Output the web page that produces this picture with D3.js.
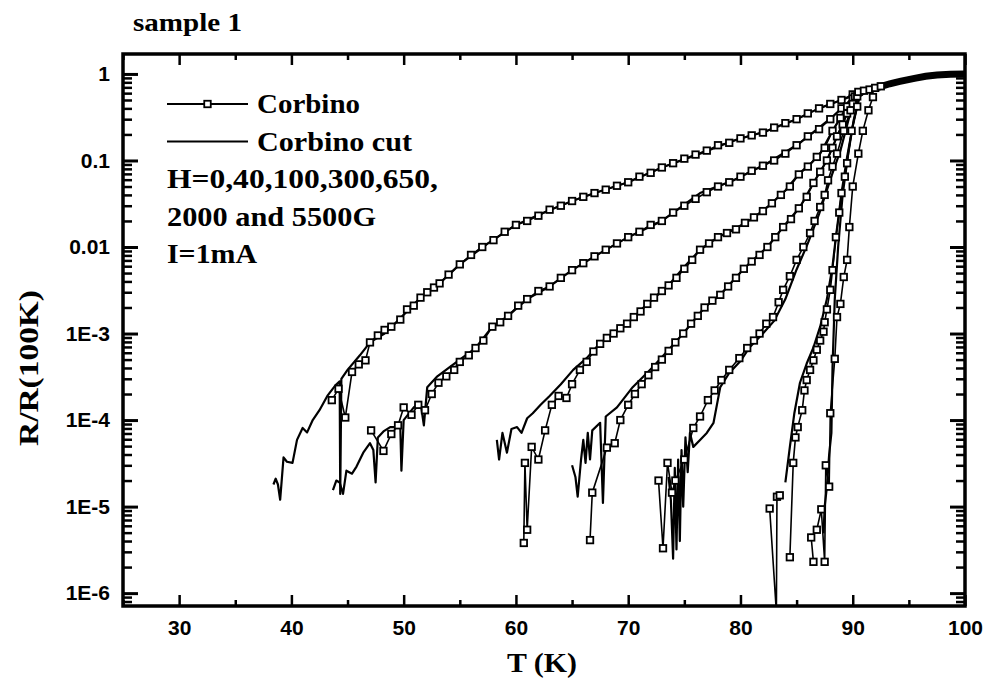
<!DOCTYPE html>
<html>
<head>
<meta charset="utf-8">
<script src="https://cdn.jsdelivr.net/npm/d3@7"></script>
<style>
body { margin: 0; background: #fff; }
.tick-label { font-family: "Liberation Sans", Arial, sans-serif; font-weight: bold; font-size: 21px; fill: #000; }
.title { font-family: "Liberation Serif", "Times New Roman", serif; font-weight: bold; fill: #000; }
</style>
</head>
<body>
<div id="chart"></div>
<script>
// DATA  (T in K, R/R(100K)); null = gap in the trace
const fieldsG = [0, 40, 100, 300, 650, 2000, 5500];

const cut0 = [[38.4,1.8e-5],[38.6,2.1e-5],[38.8,1.8e-5],[39.0,1.2e-5],[39.3,3.7e-5],[39.6,3.3e-5],[40.1,3.2e-5],[40.5,5.9e-5],[41.0,8.1e-5],[41.4,7.2e-5],[41.9,1.0e-4],[42.5,1.3e-4],[43.2,1.9e-4],[43.9,2.5e-4],[44.3,2.8e-4],[44.35,1.4e-5],[44.45,3.0e-4],[45.0,3.8e-4],[46.1,5.6e-4],[47.0,7.9e-4],[48.3,1.0e-3],[49.7,1.5e-3],[51.5,2.6e-3],[53.2,3.8e-3],[55,6.3e-3],[57.5,0.011],[60,0.018],[62.5,0.025],[65,0.034],[67.5,0.044],[70,0.056],[73,0.083],[76.4,0.12],[79.4,0.17],[82.4,0.22],[85,0.30],[87,0.40],[89,0.50],[90.6,0.60]];
const corbino0 = [[43.6,1.7e-4],[44.2,2.3e-4],[44.8,1.07e-4],[45.4,3.6e-4],[46.0,4.4e-4],[46.6,4.9e-4],[47.0,7.9e-4],[47.7,9.5e-4],[48.3,1.1e-3],[48.9,1.2e-3],[49.7,1.45e-3],[50.3,1.9e-3],[50.9,2.1e-3],[51.5,2.6e-3],[52.1,3.0e-3],[52.7,3.4e-3],[53.2,3.8e-3],[54,4.8e-3],[55,6.3e-3],[56,8.1e-3],[57,0.010],[58,0.012],[59,0.015],[60,0.018],[61,0.020],[62,0.023],[63,0.027],[64,0.030],[65,0.034],[66,0.038],[67,0.042],[68,0.046],[69,0.051],[70,0.056],[71,0.065],[72,0.072],[73,0.083],[74,0.093],[75,0.105],[76,0.117],[77,0.13],[78,0.15],[79,0.16],[80,0.18],[81,0.195],[82,0.21],[83,0.24],[84,0.27],[85,0.30],[86,0.35],[87,0.40],[88,0.45],[89,0.50],[90,0.58]];

const cut40 = [[43.7,1.55e-5],[44.0,2.0e-5],[44.3,1.9e-5],[44.6,1.4e-5],[44.9,2.6e-5],[45.4,2.4e-5],[45.8,2.9e-5],[46.4,4.2e-5],[47.0,5.4e-5],[47.3,4.5e-5],[47.5,1.9e-5],[47.7,6.3e-5],[48.2,7.4e-5],[48.8,8.3e-5],[49.7,8.3e-5],[49.8,2.6e-5],[50.0,1.0e-4],[50.9,1.4e-4],[51.5,1.6e-4],[51.8,8.7e-5],[52.1,2.4e-4],[53.0,3.2e-4],[54.1,4.1e-4],[55,5.0e-4],[56.4,6.8e-4],[57.9,1.2e-3],[59.3,1.6e-3],[61,2.5e-3],[63,3.5e-3],[65,5.4e-3],[67.5,8.5e-3],[70,0.013],[73,0.020],[76.4,0.042],[79.4,0.059],[82.4,0.093],[85.3,0.16],[88.2,0.32],[89.8,0.50]];
const corbino40 = [[47.1,7.6e-5],[48.2,4.4e-5],[48.9,6.9e-5],[49.5,8.7e-5],[50.0,1.4e-4],[50.7,1.15e-4],[51.3,1.5e-4],[51.9,1.3e-4],[52.5,2.0e-4],[53.1,2.7e-4],[53.8,3.2e-4],[54.5,3.8e-4],[55.0,4.7e-4],[55.8,5.6e-4],[56.4,6.8e-4],[57.1,8.3e-4],[57.9,1.2e-3],[58.6,1.35e-3],[59.3,1.6e-3],[60.2,2.1e-3],[61,2.5e-3],[62,3.1e-3],[63,3.5e-3],[64,4.4e-3],[65,5.4e-3],[66,6.5e-3],[67,7.8e-3],[68,9.3e-3],[69,0.011],[70,0.013],[71,0.015],[72,0.018],[73,0.020],[74,0.025],[75,0.030],[76,0.036],[77,0.043],[78,0.050],[79,0.056],[80,0.065],[81,0.076],[82,0.087],[83,0.10],[84,0.12],[85,0.15],[86,0.19],[87,0.23],[88,0.30],[89,0.40],[90,0.52]];

const cut100 = [[58.3,5.9e-5],[58.5,3.5e-5],[58.8,7.1e-5],[59.2,4.2e-5],[59.6,7.9e-5],[60.1,8.3e-5],[60.5,7.1e-5],[61.0,1.05e-4],[61.5,1.2e-4],[62.2,1.5e-4],[63.0,1.9e-4],[64.0,2.6e-4],[65.1,3.8e-4],[66.3,5.2e-4],[67.5,7.8e-4],[68.7,1.0e-3],[69.9,1.3e-3],[71.7,2.2e-3],[73.5,3.5e-3],[75.0,5.9e-3],[76.4,9.3e-3],[78,0.013],[79.4,0.016],[81,0.021],[82.4,0.029],[84,0.045],[85.3,0.072],[86.3,0.093],[87.1,0.12],[88.2,0.22],[89.5,0.42],[90.6,0.60]];
const corbino100 = [[60.7,3.8e-6],[60.8,3.2e-5],[61.0,5.4e-6],[61.4,4.9e-5],[62.0,3.5e-5],[62.6,7.6e-5],[63.2,1.5e-4],[63.8,1.9e-4],[64.5,1.8e-4],[65.0,2.6e-4],[65.7,3.8e-4],[66.3,4.7e-4],[66.9,6.2e-4],[67.5,7.6e-4],[68.1,8.9e-4],[68.7,1.0e-3],[69.3,1.15e-3],[69.9,1.3e-3],[70.5,1.55e-3],[71.1,1.8e-3],[71.7,2.2e-3],[72.3,2.6e-3],[73.0,3.1e-3],[73.6,3.6e-3],[74.3,4.4e-3],[75.0,5.6e-3],[75.7,7.1e-3],[76.4,9.3e-3],[77.2,0.011],[78.0,0.013],[78.8,0.0145],[79.6,0.016],[80.4,0.019],[81.2,0.022],[82.0,0.026],[82.8,0.032],[83.6,0.040],[84.4,0.050],[85.2,0.069],[86.0,0.085],[86.8,0.11],[87.5,0.14],[88.2,0.22],[88.9,0.31],[89.5,0.42],[90.2,0.55]];

const cut300 = [[65.0,3.0e-5],[65.3,2.2e-5],[65.5,1.3e-5],[65.8,3.5e-5],[66.0,5.9e-5],[66.2,3.2e-5],[66.4,7.1e-5],[66.6,3.5e-5],[66.8,7.6e-5],[67.5,9.3e-5],[67.75,1.1e-5],[68.0,1.1e-4],[69.0,1.4e-4],[70.4,2.4e-4],[72.2,4.1e-4],[73.5,6.3e-4],[74.9,1.0e-3],[76.8,2.0e-3],[78.2,2.8e-3],[79.4,4.2e-3],[80.8,6.5e-3],[82.4,0.010],[83.8,0.017],[85.3,0.029],[86.5,0.055],[87.7,0.10],[88.6,0.19],[89.5,0.35],[90.6,0.60]];
const corbino300 = [[66.6,4.1e-6],[66.8,1.45e-5],[68.1,4.8e-5],[68.8,5.4e-5],[69.3,1.0e-4],[70.0,1.5e-4],[70.6,2.0e-4],[71.2,2.6e-4],[71.8,3.3e-4],[72.4,4.1e-4],[73.0,5.0e-4],[73.6,6.3e-4],[74.2,7.9e-4],[74.9,1.0e-3],[75.6,1.3e-3],[76.2,1.6e-3],[76.8,2.0e-3],[77.5,2.4e-3],[78.2,2.8e-3],[78.9,3.5e-3],[79.6,4.4e-3],[80.3,5.6e-3],[81.0,6.8e-3],[81.7,8.1e-3],[82.4,0.010],[83.1,0.013],[83.8,0.017],[84.5,0.021],[85.2,0.028],[85.9,0.038],[86.5,0.055],[87.1,0.074],[87.7,0.10],[88.2,0.14],[88.6,0.19],[89.1,0.26],[89.5,0.35],[90.0,0.45]];

const cut650 = [[73.6,2.2e-5],[73.8,1.2e-5],[74.0,2.5e-6],[74.15,2.8e-5],[74.3,3.2e-6],[74.45,3.5e-5],[74.6,4.0e-6],[74.75,4.5e-5],[74.9,1.0e-5],[75.1,6.3e-5],[75.3,2.5e-5],[75.5,7.1e-5],[75.8,4.9e-5],[76.4,5.9e-5],[77.0,7.1e-5],[77.6,9.3e-5],[78.2,2.4e-4],[79.0,3.5e-4],[80.0,4.8e-4],[80.8,6.9e-4],[82.0,1.0e-3],[83.0,1.4e-3],[84.0,2.5e-3],[85.0,5.5e-3],[86.0,0.011],[87.0,0.024],[88.0,0.060],[88.9,0.13],[89.8,0.36],[90.6,0.60]];
const corbino650 = [[72.7,2.0e-5],[73.1,3.3e-6],[73.5,3.2e-5],[73.9,1.45e-5],[74.2,2.0e-5],[75.0,3.5e-5],[75.8,8.1e-5],[76.4,1.1e-4],[77.1,1.7e-4],[77.7,2.2e-4],[78.3,2.9e-4],[79.0,3.8e-4],[79.9,5.2e-4],[80.6,6.8e-4],[81.2,8.3e-4],[81.7,1.0e-3],[82.3,1.3e-3],[82.9,1.55e-3],[83.4,2.3e-3],[83.8,3.2e-3],[84.4,4.6e-3],[85.0,7.1e-3],[85.6,0.010],[86.2,0.0145],[86.6,0.020],[87.1,0.029],[87.5,0.040],[87.8,0.059],[88.2,0.085],[88.6,0.12],[89.2,0.22],[89.8,0.38],[90.4,0.55]];

const cut2000 = [[84.0,1.9e-5],[84.4,4.9e-5],[84.8,1.2e-4],[85.3,2.7e-4],[85.9,4.5e-4],[86.5,6.9e-4],[87.1,1.2e-3],[87.7,2.5e-3],[88.2,6.0e-3],[88.5,0.013],[89.0,0.042],[89.5,0.11],[90.0,0.25],[90.6,0.55]];
const corbino2000 = [[82.6,9.5e-6],[83.2,6.0e-7],[83.25,1.3e-5],[83.5,1.35e-5],[83.9,null],[84.4,2.6e-6],[84.7,3.2e-5],[84.9,6.3e-5],[85.1,8.3e-5],[85.5,1.3e-4],[85.7,2.2e-4],[85.9,2.9e-4],[86.2,3.8e-4],[86.5,4.9e-4],[86.8,6.5e-4],[87.1,8.3e-4],[87.4,1.05e-3],[87.5,1.35e-3],[87.7,1.9e-3],[88.0,3.2e-3],[88.2,5.4e-3],[88.5,0.013],[88.8,0.025],[89.0,0.042],[89.3,0.065],[89.5,0.093],[89.9,0.22],[90.4,0.42]];

const cut5500 = [[87.4,4.9e-6],[87.5,1.0e-5],[87.7,1.7e-5],[87.9,4.0e-5],[88.1,7.1e-5],[88.2,4.1e-4],[88.4,2.5e-3],[88.7,0.010],[89.1,0.040],[89.6,0.12],[90.1,0.30],[90.6,0.55]];
const corbino5500 = [[86.3,4.4e-6],[86.5,2.3e-6],[86.6,null],[86.8,5.4e-6],[87.2,9.3e-6],[87.5,2.3e-6],[87.6,3.0e-5],[87.9,1.7e-5],[88.0,1.2e-4],[88.4,5.1e-4],[88.6,1.55e-3],[88.9,2.2e-3],[89.2,4.5e-3],[89.5,7.1e-3],[89.7,0.017],[90.0,0.050],[90.5,0.12],[90.9,0.22],[91.4,0.38],[91.8,0.54]];

// normal state part, shared by all traces above ~91 K
const normalState = [[91.5,0.66],[92.4,0.71],[93.3,0.77],[94.2,0.82],[95.5,0.89],[96.5,0.94],[97.5,0.97],[98.7,0.99],[100,1.0]];
const normalMarks = [[90.5,0.62],[91,0.64],[91.5,0.66],[92,0.69],[92.5,0.72]];

const cutSeries = [cut0, cut40, cut100, cut300, cut650, cut2000, cut5500];
const corbinoSeries = [corbino0, corbino40, corbino100, corbino300, corbino650, corbino2000, corbino5500];

const xTicksMajor = [30, 40, 50, 60, 70, 80, 90, 100];
const xTicksMinor = [25, 35, 45, 55, 65, 75, 85, 95];
const yTicksMajor = [1e-6, 1e-5, 1e-4, 1e-3, 0.01, 0.1, 1];
const yTickLabels = ["1E-6", "1E-5", "1E-4", "1E-3", "0.01", "0.1", "1"];
const legendRows = ["Corbino", "Corbino cut", "H=0,40,100,300,650,", "2000 and 5500G", "I=1mA"];

//MARGIN CONVENTION
var WIDTH = 984, HEIGHT = 687;
var PLOT = { LEFT: 123, RIGHT: 965, TOP: 54, BOTTOM: 606 };

const svg = d3.select("#chart").append("svg")
  .attr("width", WIDTH)
  .attr("height", HEIGHT)
  .style("background", "#fff");

//SCALES
const x = d3.scaleLinear().domain([25, 100]).range([PLOT.LEFT, PLOT.RIGHT]);
const y = d3.scaleLog().domain([7.1e-7, 1.70]).range([PLOT.BOTTOM, PLOT.TOP]);

// minor log ticks (2..9 of each decade)
const yTicksMinor = y.ticks(10).filter(v => Math.abs(Math.log10(v) - Math.round(Math.log10(v))) > 1e-9);

//AXES
function styleAxis(g, w) {
  g.select(".domain").remove();
  g.selectAll(".tick line").attr("stroke", "#000").attr("stroke-width", w);
}
const gBottom = svg.append("g").attr("transform", `translate(0,${PLOT.BOTTOM})`)
  .call(d3.axisBottom(x).tickValues(xTicksMajor).tickSize(-11).tickPadding(14).tickFormat(d3.format("d")));
styleAxis(gBottom, 2.5);
gBottom.selectAll("text").attr("class", "tick-label");
svg.append("g").attr("transform", `translate(0,${PLOT.BOTTOM})`)
  .call(d3.axisBottom(x).tickValues(xTicksMinor).tickSize(-6).tickFormat(""))
  .call(g => styleAxis(g, 2.5));
svg.append("g").attr("transform", `translate(0,${PLOT.TOP})`)
  .call(d3.axisTop(x).tickValues(xTicksMajor).tickSize(-11).tickFormat(""))
  .call(g => styleAxis(g, 2.5));
svg.append("g").attr("transform", `translate(0,${PLOT.TOP})`)
  .call(d3.axisTop(x).tickValues(xTicksMinor).tickSize(-6).tickFormat(""))
  .call(g => styleAxis(g, 2.5));

const gLeft = svg.append("g").attr("transform", `translate(${PLOT.LEFT},0)`)
  .call(d3.axisLeft(y).tickValues(yTicksMajor).tickSize(-15).tickPadding(13)
    .tickFormat((d, i) => yTickLabels[i]));
styleAxis(gLeft, 3);
gLeft.selectAll("text").attr("class", "tick-label");
svg.append("g").attr("transform", `translate(${PLOT.LEFT},0)`)
  .call(d3.axisLeft(y).tickValues(yTicksMinor).tickSize(-9).tickFormat(""))
  .call(g => styleAxis(g, 2.5));
svg.append("g").attr("transform", `translate(${PLOT.RIGHT},0)`)
  .call(d3.axisRight(y).tickValues(yTicksMajor).tickSize(-15).tickFormat(""))
  .call(g => styleAxis(g, 3));
svg.append("g").attr("transform", `translate(${PLOT.RIGHT},0)`)
  .call(d3.axisRight(y).tickValues(yTicksMinor).tickSize(-9).tickFormat(""))
  .call(g => styleAxis(g, 2.5));

// FRAME
svg.append("rect")
  .attr("x", PLOT.LEFT).attr("y", PLOT.TOP)
  .attr("width", PLOT.RIGHT - PLOT.LEFT).attr("height", PLOT.BOTTOM - PLOT.TOP)
  .attr("fill", "none").attr("stroke", "#000").attr("stroke-width", 3.5);

// CLIP
svg.append("clipPath").attr("id", "plot-clip")
  .append("rect")
  .attr("x", PLOT.LEFT).attr("y", PLOT.TOP)
  .attr("width", PLOT.RIGHT - PLOT.LEFT).attr("height", PLOT.BOTTOM - PLOT.TOP);
const gPlot = svg.append("g").attr("clip-path", "url(#plot-clip)");

const line = d3.line()
  .defined(d => d[1] != null)
  .x(d => x(d[0]))
  .y(d => y(d[1]));

// CORBINO CUT (solid lines)
cutSeries.forEach(s => {
  gPlot.append("path")
    .attr("d", line(s.concat(normalState)))
    .attr("fill", "none").attr("stroke", "#000")
    .attr("stroke-width", 2.2).attr("stroke-linejoin", "round");
});
// the normal-state bundle of all traces
gPlot.append("path")
  .attr("d", line(normalState))
  .attr("fill", "none").attr("stroke", "#000")
  .attr("stroke-width", 7).attr("stroke-linecap", "round");

// CORBINO (line + open squares)
const SQ = 6.5;
corbinoSeries.forEach(s => {
  gPlot.append("path")
    .attr("d", line(s))
    .attr("fill", "none").attr("stroke", "#000").attr("stroke-width", 1.6);
});
corbinoSeries.concat([normalMarks]).forEach(s => {
  gPlot.selectAll(null)
    .data(s.filter(d => d[1] != null))
    .join("rect")
    .attr("x", d => x(d[0]) - SQ / 2)
    .attr("y", d => y(d[1]) - SQ / 2)
    .attr("width", SQ).attr("height", SQ)
    .attr("fill", "#fff").attr("stroke", "#000").attr("stroke-width", 1.8);
});

// LEGEND
const LEG = { X0: 167, X1: 248, TX: 257, TX2: 167, Y0: 104, DY: 37.5 };
const legendWidths = [103, 155, 271, 209, 90];
const gLegend = svg.append("g");
legendRows.forEach((t, i) => {
  const yy = LEG.Y0 + i * LEG.DY;
  if (i < 2) {
    gLegend.append("line")
      .attr("x1", LEG.X0).attr("x2", LEG.X1).attr("y1", yy).attr("y2", yy)
      .attr("stroke", "#000").attr("stroke-width", i == 0 ? 1.8 : 2.2);
  }
  if (i == 0) {
    gLegend.append("rect")
      .attr("x", (LEG.X0 + LEG.X1) / 2 - SQ / 2).attr("y", yy - SQ / 2)
      .attr("width", SQ).attr("height", SQ)
      .attr("fill", "#fff").attr("stroke", "#000").attr("stroke-width", 1.8);
  }
  gLegend.append("text")
    .attr("class", "title")
    .attr("x", i < 2 ? LEG.TX : LEG.TX2)
    .attr("y", yy + 9)
    .attr("textLength", legendWidths[i])
    .attr("lengthAdjust", "spacingAndGlyphs")
    .style("font-size", "27px")
    .text(t);
});

// TITLES
svg.append("text").attr("class", "title")
  .attr("x", 133).attr("y", 31).style("font-size", "25px")
  .attr("textLength", 109).attr("lengthAdjust", "spacingAndGlyphs")
  .text("sample 1");
svg.append("text").attr("class", "title")
  .attr("x", 507).attr("y", 672).style("font-size", "27px")
  .attr("textLength", 70).attr("lengthAdjust", "spacingAndGlyphs")
  .text("T (K)");
svg.append("text").attr("class", "title")
  .attr("transform", `translate(38,368) rotate(-90)`)
  .attr("text-anchor", "middle").style("font-size", "27px")
  .attr("textLength", 156).attr("lengthAdjust", "spacingAndGlyphs")
  .text("R/R(100K)");
</script>
</body>
</html>
